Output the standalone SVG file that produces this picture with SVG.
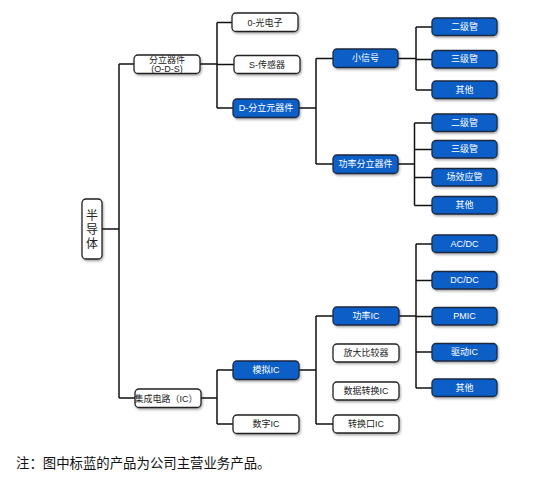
<svg xmlns="http://www.w3.org/2000/svg" width="544" height="487" viewBox="0 0 544 487">
<defs>
<filter id="sh" x="-20%" y="-20%" width="140%" height="160%">
<feDropShadow dx="1" dy="1.5" stdDeviation="1" flood-color="#000" flood-opacity="0.35"/>
</filter>
<style>
.w{fill:#fff;stroke:#222;stroke-width:1.3;filter:url(#sh)}
.b{fill:#0a5ec8;stroke:#1a2a40;stroke-width:1.3;filter:url(#sh)}
.t{font-family:"Liberation Sans","Noto Sans CJK SC",sans-serif;font-size:9px;text-anchor:middle;dominant-baseline:central;fill:#222}
.tb{font-family:"Liberation Sans","Noto Sans CJK SC",sans-serif;font-size:9px;text-anchor:middle;dominant-baseline:central;fill:#fff}
.c{fill:none;stroke:#111;stroke-width:1.5}
</style>
</defs>
<rect width="544" height="487" fill="#fff"/>
<g id="connectors">
<path class="c" d="M102,229H119M119,64V398M119,64H134M119,398H135"/>
<path class="c" d="M200,64H217M217,22.5V108M217,22.5H232M217,64.5H234M217,108H233"/>
<path class="c" d="M299,108H316M316,58.5V164M316,58.5H333M316,164H333"/>
<path class="c" d="M398,58.5H416M416,27V90M416,27H432M416,59.5H432M416,90H432"/>
<path class="c" d="M398,164H414.5M414.5,123V205.5M414.5,123H432M414.5,149.5H432M414.5,177.5H432M414.5,205.5H432"/>
<path class="c" d="M201,398H217M217,370V424M217,370H233M217,424H233"/>
<path class="c" d="M299,370H316M316,316V424M316,316H333M316,424H333"/>
<path class="c" d="M399,316H416M416,244V388M416,244H432M416,280.5H432M416,316.5H432M416,352H432M416,388H432"/>
</g>
<g id="n-semi"><rect class="w" x="82" y="199" width="20" height="60" rx="4"/>
<text font-family="Liberation Sans,Noto Sans CJK SC,sans-serif" font-size="12" fill="#222" text-anchor="middle"><tspan x="92" y="220">半</tspan><tspan x="92" y="234">导</tspan><tspan x="92" y="248">体</tspan></text></g>
<g id="n-ods"><rect class="w" x="134" y="55" width="66" height="18.5" rx="4"/>
<text class="t" x="167" y="59.5" font-size="8.5">分立器件</text><text class="t" x="167" y="68.5" font-size="8.5">(O-D-S)</text></g>
<g id="n-ic"><rect class="w" x="135" y="389" width="66" height="18.5" rx="4"/><text class="t" x="166" y="398.5" font-size="8.5">集成电路（IC）</text></g>
<g id="n-o"><rect class="w" x="232" y="13" width="66" height="18.5" rx="4"/><text class="t" x="265" y="22.5">0-光电子</text></g>
<g id="n-s"><rect class="w" x="234" y="55.5" width="66" height="18" rx="4"/><text class="t" x="267" y="64.5">S-传感器</text></g>
<g id="n-d"><rect class="b" x="233" y="99" width="66" height="18.5" rx="4"/><text class="tb" x="266" y="108.2">D-分立元器件</text></g>
<g id="n-analog"><rect class="b" x="233" y="361" width="66" height="18.5" rx="4"/><text class="tb" x="266" y="370.2">模拟IC</text></g>
<g id="n-digital"><rect class="w" x="233" y="415" width="66" height="18.5" rx="4"/><text class="t" x="266" y="424.2">数字IC</text></g>
<g id="n-small"><rect class="b" x="333" y="49" width="65" height="18.5" rx="4"/><text class="tb" x="365.5" y="58.2">小信号</text></g>
<g id="n-power"><rect class="b" x="333" y="155" width="65" height="18.5" rx="4"/><text class="tb" x="365.5" y="164.2">功率分立器件</text></g>
<g id="n-pic"><rect class="b" x="333" y="307" width="66" height="18" rx="4"/><text class="tb" x="366" y="316">功率IC</text></g>
<g id="n-amp"><rect class="w" x="333" y="344" width="66" height="18" rx="4"/><text class="t" x="366" y="353">放大比较器</text></g>
<g id="n-dc"><rect class="w" x="333" y="382" width="66" height="18" rx="4"/><text class="t" x="366" y="391">数据转换IC</text></g>
<g id="n-port"><rect class="w" x="333" y="415" width="66" height="18" rx="4"/><text class="t" x="366" y="424">转换口IC</text></g>
<g id="n-s1"><rect class="b" x="432" y="18" width="65" height="17.5" rx="4"/><text class="tb" x="464.5" y="26.8">二级管</text></g>
<g id="n-s2"><rect class="b" x="432" y="50.5" width="65" height="17.5" rx="4"/><text class="tb" x="464.5" y="59.3">三级管</text></g>
<g id="n-s3"><rect class="b" x="432" y="81" width="65" height="17.5" rx="4"/><text class="tb" x="464.5" y="89.8">其他</text></g>
<g id="n-p1"><rect class="b" x="432" y="114" width="65" height="17.5" rx="4"/><text class="tb" x="464.5" y="122.8">二级管</text></g>
<g id="n-p2"><rect class="b" x="432" y="140.5" width="65" height="17.5" rx="4"/><text class="tb" x="464.5" y="149.3">三级管</text></g>
<g id="n-p3"><rect class="b" x="432" y="168.5" width="65" height="17.5" rx="4"/><text class="tb" x="464.5" y="177.3">场效应管</text></g>
<g id="n-p4"><rect class="b" x="432" y="196.5" width="65" height="17.5" rx="4"/><text class="tb" x="464.5" y="205.3">其他</text></g>
<g id="n-q1"><rect class="b" x="432" y="235" width="65" height="17.5" rx="4"/><text class="tb" x="464.5" y="243.8">AC/DC</text></g>
<g id="n-q2"><rect class="b" x="432" y="271.5" width="65" height="17.5" rx="4"/><text class="tb" x="464.5" y="280.3">DC/DC</text></g>
<g id="n-q3"><rect class="b" x="432" y="307.5" width="65" height="17.5" rx="4"/><text class="tb" x="464.5" y="316.3">PMIC</text></g>
<g id="n-q4"><rect class="b" x="432" y="343.5" width="65" height="17.5" rx="4"/><text class="tb" x="464.5" y="352.3">驱动IC</text></g>
<g id="n-q5"><rect class="b" x="432" y="379" width="65" height="17.5" rx="4"/><text class="tb" x="464.5" y="387.8">其他</text></g>
<text x="16" y="468" font-family="Liberation Serif,Noto Sans CJK SC,serif" font-size="13.4" fill="#111">注：图中标蓝的产品为公司主营业务产品。</text>
</svg>
